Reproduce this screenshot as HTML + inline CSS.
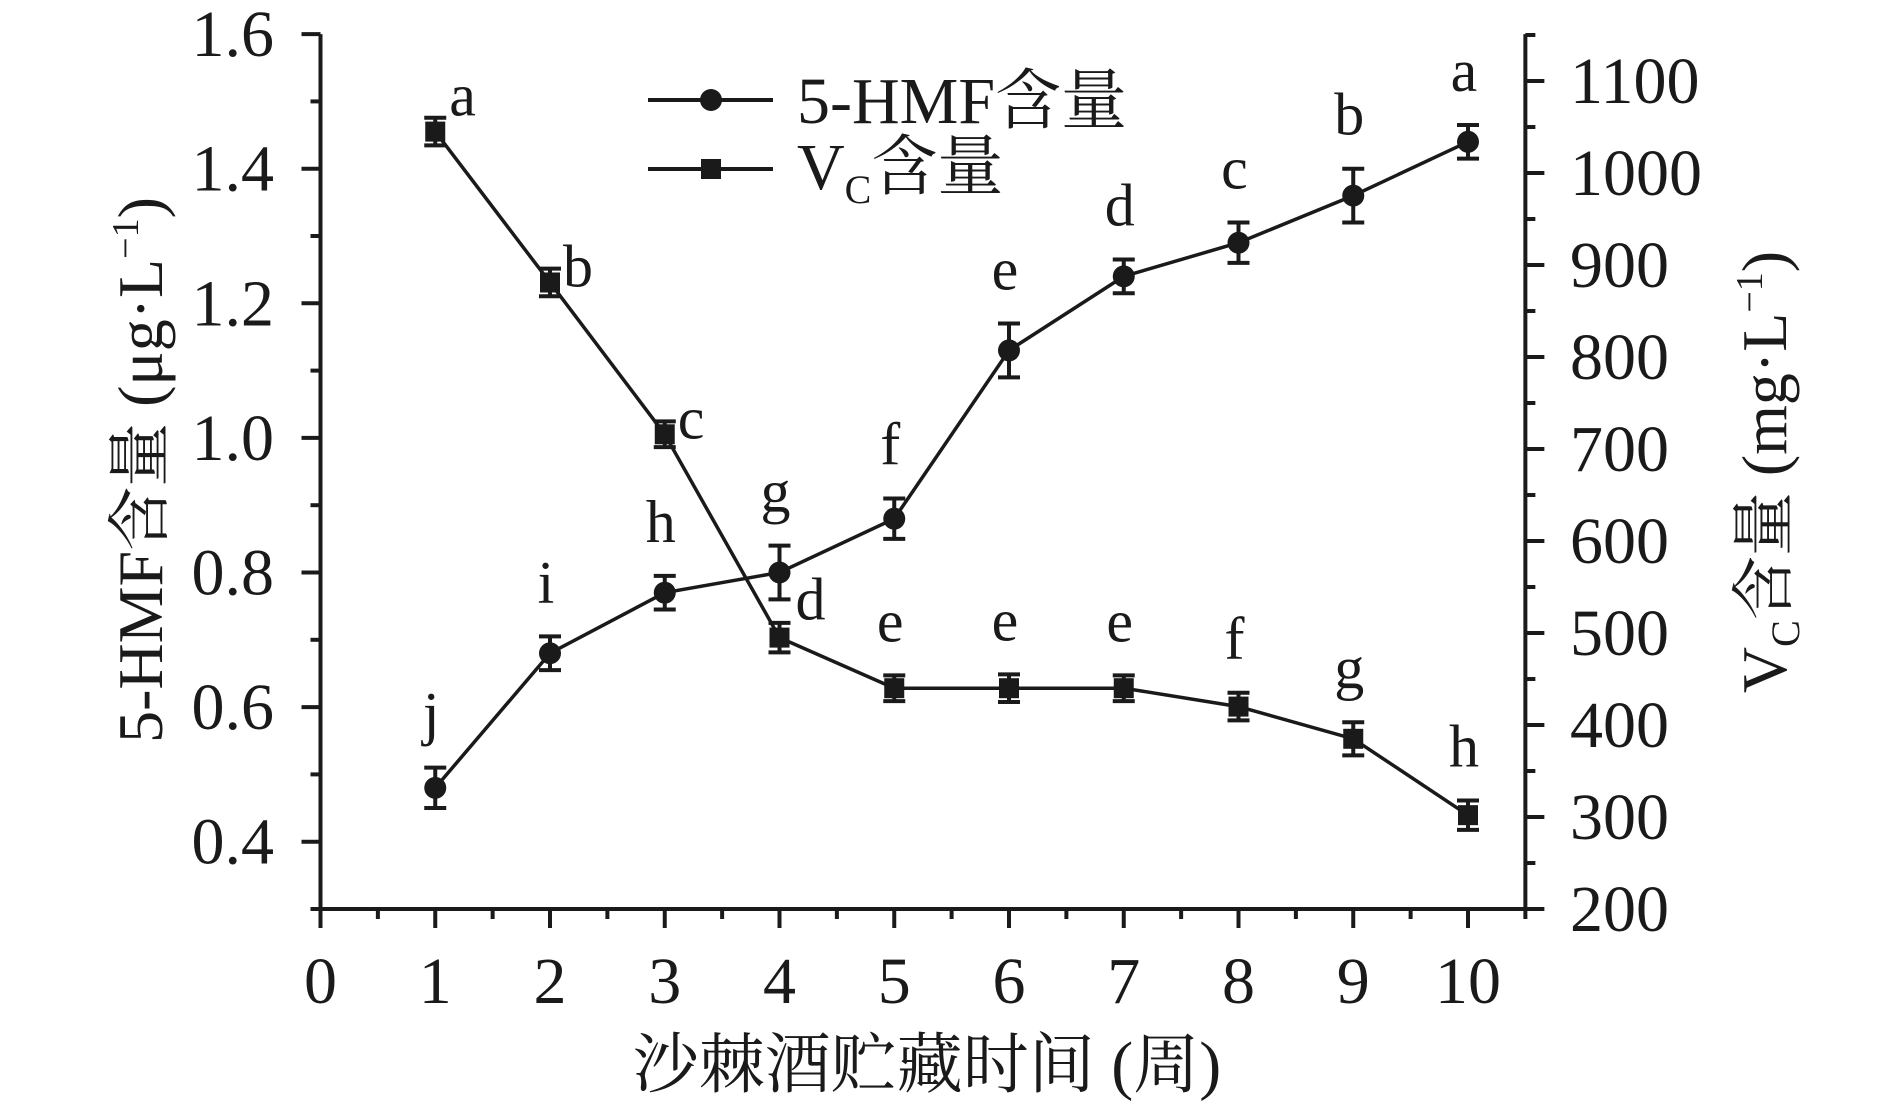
<!DOCTYPE html>
<html><head><meta charset="utf-8"><style>
html,body{margin:0;padding:0;background:#fff}
svg{display:block}
text{font-family:"Liberation Serif","Noto Serif CJK SC",serif;fill:#1a1a1a}
</style></head><body>
<svg id="chart" width="1890" height="1104" viewBox="0 0 1890 1104" xmlns="http://www.w3.org/2000/svg">
<g id="axes"></g>
<g id="series"></g>
<g id="legend">
  <line x1="648" y1="100" x2="773" y2="100" stroke="#1a1a1a" stroke-width="4"/>
  <circle cx="711" cy="100" r="11" fill="#1a1a1a"/>
  <text x="797" y="123" font-size="66">5-HMF含量</text>
  <line x1="648" y1="169" x2="773" y2="169" stroke="#1a1a1a" stroke-width="4"/>
  <rect x="701" y="159" width="20" height="20" fill="#1a1a1a"/>
  <text x="797" y="189" font-size="66">V<tspan font-size="40" dy="14">C</tspan><tspan dy="-14">含量</tspan></text>
</g>
<text x="927" y="1087" font-size="66" text-anchor="middle">沙棘酒贮藏时间 (周)</text>
<text transform="translate(162,470) rotate(-90)" font-size="64" text-anchor="middle">5-HMF含量 (μg·L<tspan font-size="38" dy="-24">−1</tspan><tspan dy="24">)</tspan></text>
<text transform="translate(1786,472) rotate(-90)" font-size="64" text-anchor="middle">V<tspan font-size="40" dy="13">C</tspan><tspan dy="-13">含量 (mg·L</tspan><tspan font-size="38" dy="-24">−1</tspan><tspan dy="24">)</tspan></text>
</svg>
<script>
const weeks = [1,2,3,4,5,6,7,8,9,10];
const hmfValues = [0.48,0.68,0.77,0.80,0.88,1.13,1.24,1.29,1.36,1.44];
const hmfErrors = [0.03,0.025,0.025,0.04,0.03,0.04,0.025,0.03,0.04,0.025];
const hmfLetters = ['j','i','h','g','f','e','d','c','b','a'];
const vcValues = [1045,881,716,495,440,440,440,420,385,302];
const vcErrors = [15,15,14,16,14,15,14,15,18,16];
const vcLetters = ['a','b','c','d','e','e','e','f','g','h'];
const xTicks = [0,1,2,3,4,5,6,7,8,9,10];
const leftTicks = ['0.4','0.6','0.8','1.0','1.2','1.4','1.6'];
const rightTicks = ['200','300','400','500','600','700','800','900','1000','1100'];

const NS='http://www.w3.org/2000/svg';
const X0=320.5, XU=114.75, YB=909, YL0=0.3, YLU=673, YR0=200, YRU=0.92;
const sx=v=>X0+v*XU;
const syL=v=>YB-(v-YL0)*YLU;
const syR=v=>YB-(v-YR0)*YRU;
const XR=sx(10.5), YT=syL(1.6)-0;
function mk(p,tag,attrs){const e=document.createElementNS(NS,tag);for(const k in attrs)e.setAttribute(k,attrs[k]);p.appendChild(e);return e;}
const axes=document.getElementById('axes');
const ser=document.getElementById('series');
const C='#1a1a1a';

let e;
e=mk(axes,'line',{x1:X0,y1:YB,x2:XR,y2:YB,stroke:C,'stroke-width':4});


e=mk(axes,'line',{x1:X0,y1:YB+2,x2:X0,y2:YT,stroke:C,'stroke-width':4});


e=mk(axes,'line',{x1:XR,y1:YB+2,x2:XR,y2:YT,stroke:C,'stroke-width':4});



for(let v=0; v<=10.5; v+=0.5){
  const major=Number.isInteger(v);
  e=mk(axes,'line',{x1:sx(v),y1:YB,x2:sx(v),y2:YB+(major?19:10),stroke:C,'stroke-width':4});
  
  
}
xTicks.forEach(v=>{
  e=mk(axes,'text',{x:sx(v),y:1003,'font-size':66,'text-anchor':'middle'});
  e.textContent=v;
  
  
});
for(let i=0;i<=13;i++){
  const v=0.3+i*0.1; const major=(i%2===1);
  e=mk(axes,'line',{x1:X0,y1:syL(v),x2:X0-(major?19:10),y2:syL(v),stroke:C,'stroke-width':4});
  
  
}
leftTicks.forEach(t=>{
  e=mk(axes,'text',{x:274,y:syL(parseFloat(t))+22,'font-size':66,'text-anchor':'end'});
  e.textContent=t;
  
  
});
for(let v=200; v<=1150; v+=50){
  const major=(v%100===0);
  e=mk(axes,'line',{x1:XR,y1:syR(v),x2:XR+(major?19:10),y2:syR(v),stroke:C,'stroke-width':4});
  
  
}
rightTicks.forEach(t=>{
  e=mk(axes,'text',{x:1570,y:syR(parseFloat(t))+22,'font-size':66,'text-anchor':'start'});
  e.textContent=t;
  
  
});

function series(vals,errs,sy,name,shape,letters,letterPos){
  const pts=weeks.map((w,i)=>sx(w)+','+sy(vals[i])).join(' ');
  e=mk(ser,'polyline',{points:pts,fill:'none',stroke:C,'stroke-width':3.5});
  
  
  weeks.forEach((w,i)=>{
    const x=sx(w), y=sy(vals[i]), yt=sy(vals[i]+errs[i]), yb=sy(vals[i]-errs[i]);
    e=mk(ser,'path',{d:`M${x},${yt}V${yb}M${x-11},${yt}H${x+11}M${x-11},${yb}H${x+11}`,stroke:C,'stroke-width':4,fill:'none'});
    
    
    if(shape==='circle'){
      e=mk(ser,'circle',{cx:x,cy:y,r:11,fill:C});
    } else {
      e=mk(ser,'rect',{x:x-10,y:y-10,width:20,height:20,fill:C});
    }
    
    
    const p=letterPos(i,x,y,yt);
    e=mk(ser,'text',{x:p[0],y:p[1],'font-size':60,'text-anchor':p[2]});
    e.textContent=letters[i];
    
    
  });
}
series(hmfValues,hmfErrors,syL,'hmf','circle',hmfLetters,(i,x,y,yt)=>[x-4,yt-34,'middle']);
series(vcValues,vcErrors,syR,'vc','square',vcLetters,(i,x,y,yt)=>{
  if(i===0) return [x+14,y-16,'start'];
  if(i===1) return [x+13,y+4,'start'];
  if(i===2) return [x+13,y+4,'start'];
  if(i===3) return [x+16,y-18,'start'];
  return [x-4,yt-34,'middle'];
});
</script>
</body></html>
